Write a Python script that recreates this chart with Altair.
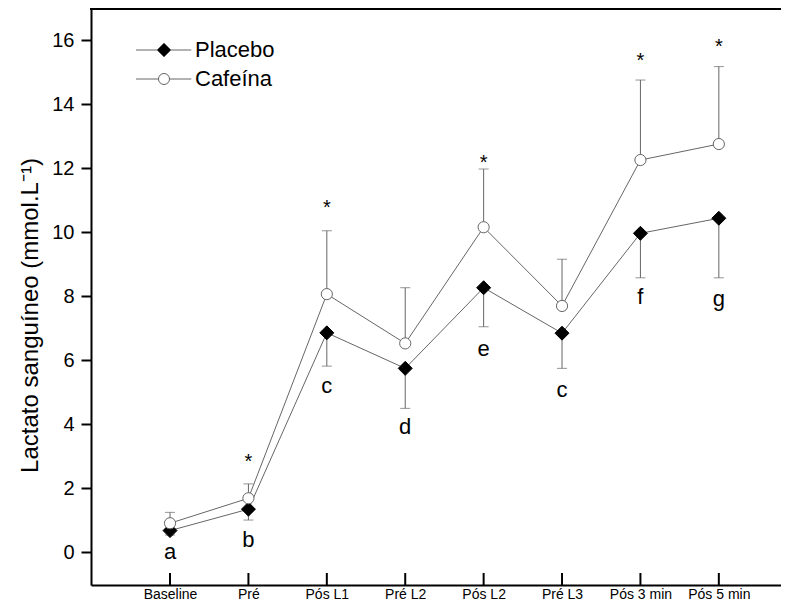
import json
import altair as alt
import pandas as pd

categories = ["Baseline", "Pré", "Pós L1", "Pré L2", "Pós L2", "Pré L3", "Pós 3 min", "Pós 5 min"]
series = ["Placebo", "Cafeína"]
placebo = [0.67, 1.34, 6.85, 5.74, 8.26, 6.84, 9.96, 10.43]
placebo_low = [0.53, 1.00, 5.81, 4.49, 7.04, 5.74, 8.57, 8.57]
cafeina = [0.90, 1.68, 8.06, 6.52, 10.15, 7.69, 12.25, 12.75]
cafeina_high = [1.24, 2.13, 10.04, 8.26, 11.97, 9.15, 14.75, 15.17]
letters = ["a", "b", "c", "d", "e", "c", "f", "g"]
letter_y = [0.0, 0.38, 5.2, 3.9, 6.33, 5.06, 7.98, 7.9]
star_idx = [1, 2, 4, 6, 7]
star_y = [2.96, 10.9, 12.3, 15.5, 15.95]
y_ticks = [0, 2, 4, 6, 8, 10, 12, 14, 16]

FONT = "Liberation Sans"
GREY = "#666666"
Y_MIN, Y_MAX = -1.03, 16.97

rows = []
for i, c in enumerate(categories):
    rows.append({"i": i, "cat": c, "series": "Placebo", "v": placebo[i], "b": placebo_low[i]})
    rows.append({"i": i, "cat": c, "series": "Cafeína", "v": cafeina[i], "b": cafeina_high[i]})
df = pd.DataFrame(rows)
cat_df = pd.DataFrame({"i": list(range(len(categories))), "cat": categories,
                       "letter": letters, "ly": letter_y})
star_df = pd.DataFrame({"i": star_idx, "sy": star_y, "t": ["*"] * len(star_idx)})

label_expr = "%s[datum.value]" % json.dumps(categories)

xscale = alt.Scale(domain=[-1.008, 7.793], nice=False, zero=False)
yscale = alt.Scale(domain=[Y_MIN, Y_MAX], nice=False, zero=False)

X = alt.X("i:Q", scale=xscale, title=None,
          axis=alt.Axis(values=list(range(len(categories))), labelExpr=label_expr,
                        ticks=False, grid=False, domainColor="black", domainWidth=2,
                        labelFont=FONT, labelFontSize=14, labelColor="black",
                        labelBaseline="alphabetic", labelPadding=13,
                        labelFlush=False, labelOverlap=False))
Y = alt.Y("v:Q", scale=yscale,
          title="Lactato sanguíneo (mmol.L⁻¹)",
          axis=alt.Axis(values=y_ticks, grid=False, domainColor="black", domainWidth=2,
                        tickColor="black", tickWidth=2, tickSize=10,
                        labelFont=FONT, labelFontSize=20, labelColor="black", labelPadding=7,
                        titleFont=FONT, titleFontSize=24, titleFontWeight="normal",
                        titleColor="black", titleAngle=270, titleAlign="center",
                        titleBaseline="alphabetic", titleX=-54, titleY=306))

Xp = alt.X("i:Q", scale=xscale)

lines = alt.Chart(df).mark_line(color=GREY, strokeWidth=1).encode(
    x=X, y=Y, detail="series:N")

err_rule = alt.Chart(df).mark_rule(color=GREY, strokeWidth=1).encode(
    x=Xp, y=alt.Y("v:Q", scale=yscale), y2="b:Q")
err_cap = alt.Chart(df).mark_tick(color=GREY, orient="horizontal", size=10, thickness=1).encode(
    x=Xp, y=alt.Y("b:Q", scale=yscale))

inner_ticks = alt.Chart(cat_df).mark_rule(color="black", strokeWidth=2).encode(
    x=Xp, y=alt.value(576), y2=alt.value(564))

top_border = alt.Chart(cat_df.head(1)).mark_rule(color="black", strokeWidth=2).encode(
    y=alt.datum(Y_MAX), x=alt.value(-1), x2=alt.value(720))

p_path = "M-4,0L-1,0M1,0L3.9,0M0,-1L1,0L0,1L-1,0Z"
c_path = "M-4,0L-0.79,0M0.79,0L3.9,0M0.79,0A0.79,0.79,0,1,1,-0.79,0A0.79,0.79,0,1,1,0.79,0Z"

legend = alt.Legend(
    title=None, orient="none", legendX=62, legendY=30, padding=0,
    symbolSize=196, labelFont=FONT, labelFontSize=22, labelColor="black",
    labelOffset=20, rowPadding=7,
    symbolType=alt.ExprRef(expr="datum.value === 'Placebo' ? '%s' : '%s'" % (p_path, c_path)),
    symbolStrokeColor=GREY, symbolStrokeWidth=1, symbolOpacity=1)

points = alt.Chart(df).mark_point(filled=True, opacity=1, strokeWidth=1).encode(
    x=Xp, y=alt.Y("v:Q", scale=yscale),
    fill=alt.Fill("series:N", scale=alt.Scale(domain=series, range=["black", "white"]),
                  legend=legend),
    shape=alt.condition("datum.series === 'Placebo'", alt.value("diamond"), alt.value("circle")),
    stroke=alt.condition("datum.series === 'Placebo'", alt.value("black"), alt.value(GREY)),
    size=alt.condition("datum.series === 'Placebo'", alt.value(196), alt.value(125)),
)

letter_txt = alt.Chart(cat_df).mark_text(font=FONT, fontSize=22, color="black", baseline="middle").encode(
    x=Xp, y=alt.Y("ly:Q", scale=yscale), text="letter:N")

star_txt = alt.Chart(star_df).mark_text(font=FONT, fontSize=20, color="black",
                                        baseline="alphabetic", dy=11).encode(
    x=Xp, y=alt.Y("sy:Q", scale=yscale), text="t:N")

chart = alt.layer(lines, err_rule, err_cap, inner_ticks, top_border, points, letter_txt, star_txt).properties(
    width=690, height=576,
    autosize=alt.AutoSizeParams(type="none"),
    padding={"left": 83, "top": 1, "right": 0, "bottom": 15},
    background="white",
).configure_view(stroke=None)

chart.save("out.html", embed_options={"renderer": "svg", "actions": False})
